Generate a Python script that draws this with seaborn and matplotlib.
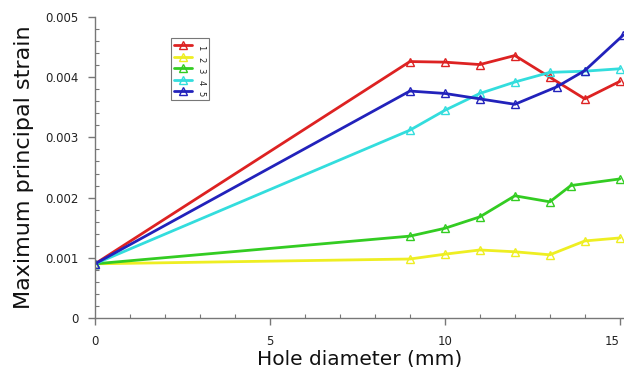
import matplotlib
matplotlib.use("Agg")
import matplotlib.pyplot as plt
import seaborn as sns
import pandas as pd
from matplotlib.ticker import MultipleLocator, FixedLocator

sns.set_theme(style="white")
plt.rcParams['font.family'] = ['DejaVu Sans']

labels = ["1", "2", "3", "4", "5"]
colors = ["#dd2222", "#eeee22", "#33cc22", "#33dddd", "#2222bb"]

x1 = [0, 9, 10, 11, 12, 13, 14, 15]
y1 = [0.0009, 0.00426, 0.00425, 0.00421, 0.00436, 0.00400, 0.00364, 0.00393]
x2 = [0, 9, 10, 11, 12, 13, 14, 15]
y2 = [0.0009, 0.00098, 0.00106, 0.00113, 0.00110, 0.00105, 0.00128, 0.00133]
x3 = [0, 9, 10, 11, 12, 13, 13.6, 15]
y3 = [0.0009, 0.00136, 0.00149, 0.00168, 0.00203, 0.00193, 0.00220, 0.00231]
x4 = [0, 9, 10, 11, 12, 13, 14, 15]
y4 = [0.0009, 0.00312, 0.00345, 0.00373, 0.00392, 0.00408, 0.00410, 0.00414]
x5 = [0, 9, 10, 11, 12, 13.2, 14, 15.1]
y5 = [0.0009, 0.00377, 0.00373, 0.00364, 0.00355, 0.00384, 0.00411, 0.00470]

xticks = [0, 5, 10, 15]
xticklabels = ["0", "5", "10", "15"]
yticks = [0, 0.001, 0.002, 0.003, 0.004, 0.005]
yticklabels = ["0", "0.001", "0.002", "0.003", "0.004", "0.005"]

fig = plt.figure(figsize=(6.24, 3.67), dpi=100)
ax = fig.add_axes([95/624, 49/367, (624-95)/624, 301/367])

for xs, ys, lab, c in zip([x1, x2, x3, x4, x5], [y1, y2, y3, y4, y5], labels, colors):
    df = pd.DataFrame({"x": xs, "y": ys})
    sns.lineplot(data=df, x="x", y="y", ax=ax, color=c, linewidth=2,
                 marker="^", markersize=6, markerfacecolor="none",
                 markeredgecolor=c, markeredgewidth=1.0, label=lab)

ax.set_xlim(0, 15.12)
ax.set_ylim(0, 0.005)
ax.xaxis.set_major_locator(FixedLocator(xticks))
ax.set_xticklabels(xticklabels)
ax.yaxis.set_major_locator(FixedLocator(yticks))
ax.set_yticklabels(yticklabels)
ax.xaxis.set_minor_locator(MultipleLocator(1))
ax.yaxis.set_minor_locator(MultipleLocator(0.0002))

for s in ["top", "right"]:
    ax.spines[s].set_visible(False)
for s in ["left", "bottom"]:
    ax.spines[s].set_color("#777777")
    ax.spines[s].set_linewidth(1.0)

ax.tick_params(which="major", direction="out", length=5, width=1, color="#777777",
               labelsize=8.5, labelcolor="#222222", bottom=True, left=True, pad=7)
ax.tick_params(which="minor", direction="in", length=3, width=0.8, color="#777777",
               bottom=True, left=True)
xtl = ax.get_xticklabels()
xtl[-1].set_horizontalalignment("right")

ax.set_xlabel("Hole diameter (mm)", fontsize=14.5, color="#111111", labelpad=1)
ax.set_ylabel("Maximum principal strain", fontsize=16, color="#111111", labelpad=8)

leg = ax.legend(loc="upper left", bbox_to_anchor=(0.143, 0.93), fontsize=6,
                frameon=True, fancybox=False, handlelength=2.2, handletextpad=0.5,
                borderpad=0.4, labelspacing=0.3, borderaxespad=0)
leg.get_frame().set_edgecolor("#555555")
leg.get_frame().set_linewidth(0.8)
for t in leg.get_texts():
    t.set_rotation(-90)

fig.savefig("out.png", dpi=100)
